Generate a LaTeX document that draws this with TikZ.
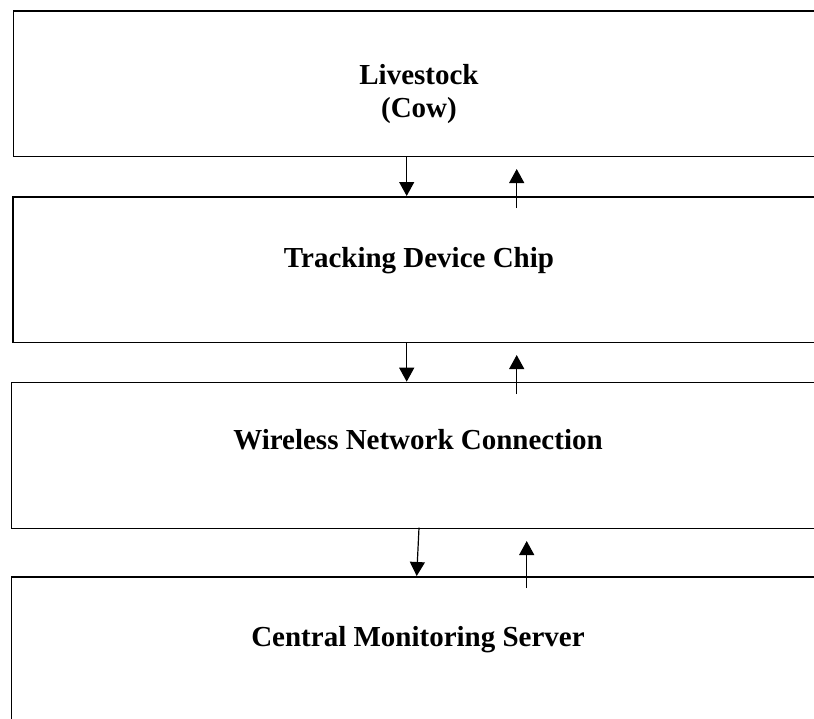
\documentclass[tikz,border=0pt]{standalone}
\usepackage{fontspec}
\setmainfont{Liberation Serif}
\usetikzlibrary{arrows.meta}
\tikzset{
  box/.style={draw=black, line width=1.6pt, fill=none, anchor=north west, inner sep=0pt, minimum width=820pt},
  lbl/.style={anchor=base, inner sep=0pt, font=\fontsize{29}{34}\selectfont\bfseries},
  arr/.style={line width=1.2pt, -{Triangle[width=15pt,length=14pt]}}
}
\begin{document}
\begin{tikzpicture}[x=1pt,y=-1pt]
\useasboundingbox (0,0) rectangle (814,718);
\node[box, minimum height=145.5pt] (b1) at (12.5,10) {};
\node[box, minimum height=145.5pt] (b2) at (12,196) {};
\node[box, minimum height=146pt] (b3) at (10.5,381.7) {};
\node[box, minimum height=160pt] (b4) at (10.5,576) {};

\node[lbl] (t1a) at (419,84) {Livestock};
\node[lbl] (t1b) at (419,117) {(Cow)};
\node[lbl] (t2) at (419,267) {Tracking Device Chip};
\node[lbl] (t3) at (418,449) {Wireless Network Connection};
\node[lbl] (t4) at (418,646) {Central Monitoring Server};

\coordinate (u1) at (516.7,208);
\coordinate (u1e) at (516.7,169);
\coordinate (u2) at (516.7,394);
\coordinate (u2e) at (516.7,355);
\coordinate (u3) at (526.7,588);
\coordinate (u3e) at (526.7,541);
\coordinate (d1x) at (406.7,0);
\coordinate (d2x) at (406.7,0);
\coordinate (d3s) at (419,527.7);
\coordinate (d3e) at (416.7,576);

\draw[arr] (b1.south -| d1x) -- (b2.north -| d1x);
\draw[arr] (u1) -- (u1e);
\draw[arr] (b2.south -| d2x) -- (b3.north -| d2x);
\draw[arr] (u2) -- (u2e);
\draw[arr] (d3s) -- (d3e);
\draw[arr] (u3) -- (u3e);
\end{tikzpicture}
\end{document}
